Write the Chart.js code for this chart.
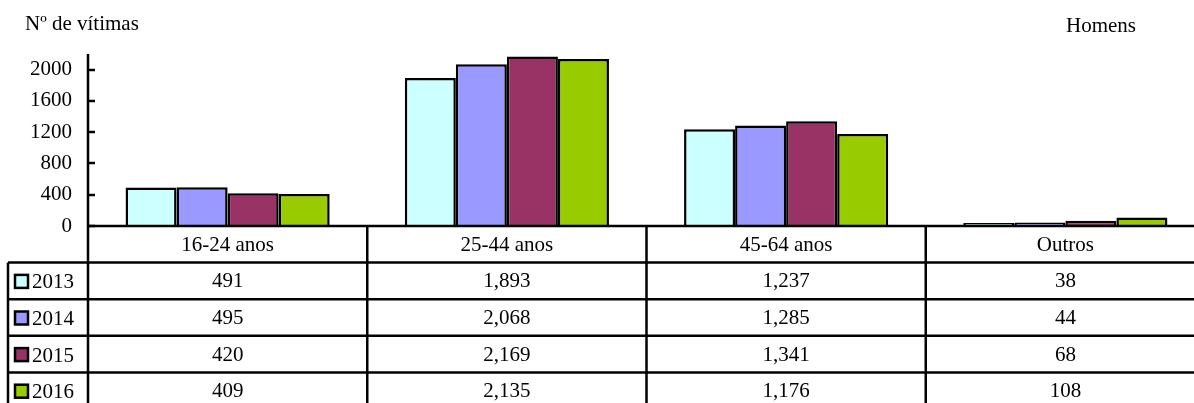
<!DOCTYPE html>
<html>
<head>
<meta charset="utf-8">
<script src="https://cdn.jsdelivr.net/npm/chart.js@4.4.1/dist/chart.umd.min.js"></script>
<style>
html,body{margin:0;padding:0;background:#fff;overflow:hidden;}
#wrap{position:relative;width:1205px;height:403px;}
</style>
</head>
<body>
<div id="wrap"><canvas id="c"></canvas></div>
<script>
const categories = ["16-24 anos", "25-44 anos", "45-64 anos", "Outros"];
const years = ["2013", "2014", "2015", "2016"];
const v2013 = [491, 1893, 1237, 38];
const v2014 = [495, 2068, 1285, 44];
const v2015 = [420, 2169, 1341, 68];
const v2016 = [409, 2135, 1176, 108];
const yTicks = [0, 400, 800, 1200, 1600, 2000];
const colors = ["#CCFFFF", "#9999FF", "#993366", "#99CC00"];
const series = [v2013, v2014, v2015, v2016];

const FONT = "'Liberation Serif', 'Times New Roman', serif";
const FS = 21;

const tablePlugin = {
  id: 'tablePlugin',
  afterDraw(chart) {
    const ctx = chart.ctx;
    const xs = chart.scales.x, ys = chart.scales.y;
    const area = chart.chartArea;
    const n = categories.length;
    const colW = (area.right - area.left) / n;
    const rowH = 36.6;
    const top = area.bottom;
    const labelLeft = 8;
    const bottom = top + rowH * (years.length + 1) + 10;
    ctx.save();
    ctx.strokeStyle = '#000';
    ctx.lineWidth = 2.5;
    ctx.beginPath();
    ctx.moveTo(area.left, area.top);
    ctx.lineTo(area.left, bottom);
    ctx.stroke();
    yTicks.forEach(t => {
      const y = Math.round(ys.getPixelForValue(t));
      ctx.beginPath();
      ctx.moveTo(area.left, y);
      ctx.lineTo(area.left + 7, y);
      ctx.stroke();
    });
    ctx.beginPath();
    ctx.moveTo(area.left, top);
    ctx.lineTo(area.right, top);
    ctx.stroke();
    for (let r = 1; r <= years.length; r++) {
      const y = top + rowH * r;
      ctx.beginPath();
      ctx.moveTo(labelLeft, y);
      ctx.lineTo(area.right, y);
      ctx.stroke();
    }
    ctx.beginPath();
    ctx.moveTo(labelLeft, top + rowH);
    ctx.lineTo(labelLeft, bottom);
    ctx.stroke();
    for (let i = 1; i < n; i++) {
      const x = xs.getPixelForValue(i) - colW / 2;
      ctx.beginPath();
      ctx.moveTo(x, top);
      ctx.lineTo(x, bottom);
      ctx.stroke();
    }
    ctx.fillStyle = '#000';
    ctx.font = FS + "px " + FONT;
    ctx.textAlign = 'center';
    ctx.textBaseline = 'middle';
    categories.forEach((c, i) => {
      const x = xs.getPixelForValue(i);
      ctx.fillText(c, x, top + rowH / 2 + 1);
      series.forEach((s, r) => {
        ctx.fillText(s[i].toLocaleString('en-US'), x, top + rowH * (r + 1.5) + 1);
      });
    });
    ctx.textAlign = 'left';
    years.forEach((yr, r) => {
      const cy = top + rowH * (r + 1.5);
      ctx.fillStyle = colors[r];
      ctx.fillRect(15, cy - 6, 13, 13);
      ctx.strokeStyle = '#000';
      ctx.lineWidth = 2.5;
      ctx.strokeRect(15, cy - 6, 13, 13);
      ctx.fillStyle = '#000';
      ctx.fillText(yr, 32, cy + 2);
    });
    ctx.fillText("Nº de vítimas", 25, 24);
    ctx.fillText("Homens", 1066, 26);
    ctx.restore();
  }
};

new Chart(document.getElementById('c'), {
  type: 'bar',
  data: {
    labels: categories,
    datasets: years.map((y, i) => ({
      label: y,
      data: series[i],
      backgroundColor: colors[i],
      borderColor: '#000',
      borderWidth: 2.5,
      borderSkipped: 'bottom',
      barPercentage: 1.0,
      categoryPercentage: 0.731
    }))
  },
  options: {
    responsive: true,
    maintainAspectRatio: false,
    animation: false,
    layout: { padding: { left: 0, right: 0, top: 54, bottom: 177 } },
    plugins: { legend: { display: false }, tooltip: { enabled: false } },
    scales: {
      x: { display: false },
      y: {
        min: 0, max: 2200,
        afterFit(scale) { scale.width = 88; },
        afterBuildTicks(scale) { scale.ticks = yTicks.map(v => ({ value: v })); },
        grid: { display: false, drawTicks: false },
        border: { display: false },
        ticks: {
          padding: 16,
          color: '#000',
          font: { family: FONT, size: FS },
          callback: v => String(v)
        }
      }
    }
  },
  plugins: [tablePlugin]
});
</script>
</body>
</html>
